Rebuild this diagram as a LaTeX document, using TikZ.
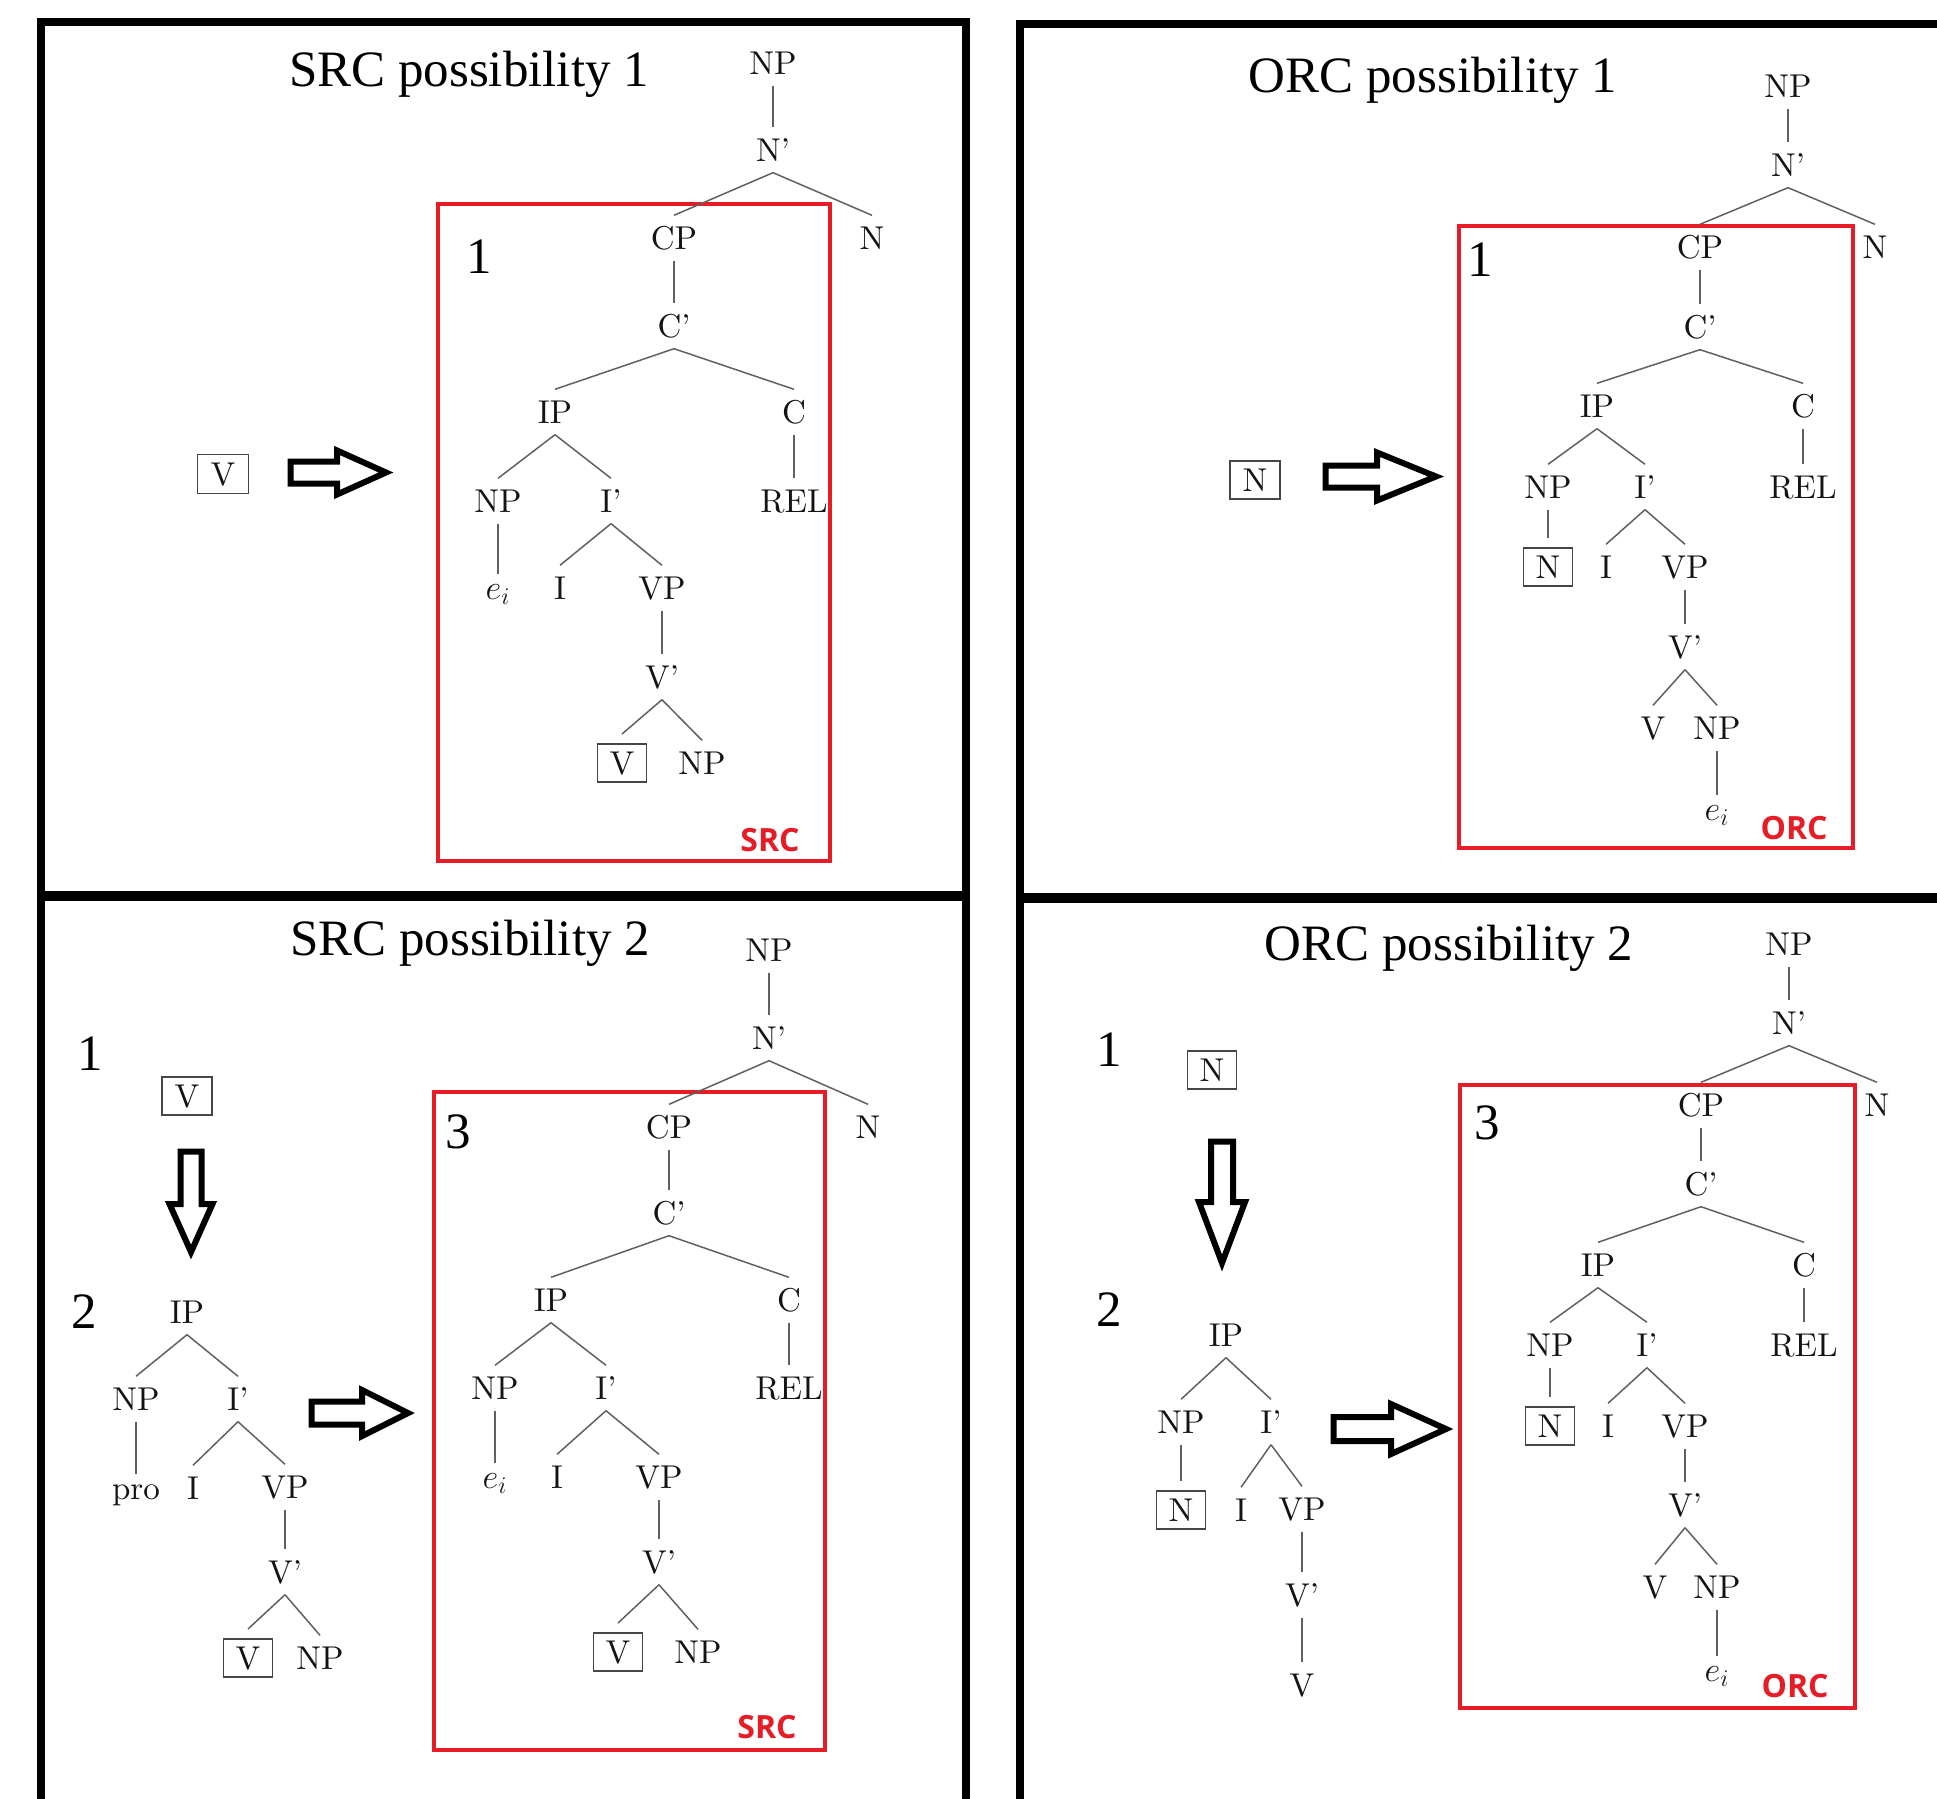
\documentclass[tikz,border=0pt]{standalone}
\usepackage{fontspec}
\newfontfamily\titlefont{Liberation Serif}
\newfontfamily\labfont{Open Sans}
\newfontfamily\treefont{lmroman10-regular.otf}[Ligatures=TeX]
\definecolor{redbox}{RGB}{230,28,38}
\definecolor{treeline}{RGB}{96,96,96}
\definecolor{treetext}{RGB}{20,20,20}
\definecolor{boxgray}{RGB}{70,70,70}
\newcommand\rblockarrow[6]{\draw[blockar] (#1,{#4-#5}) -- (#2,{#4-#5}) -- (#2,{#4-#6}) -- (#3,#4) -- (#2,{#4+#6}) -- (#2,{#4+#5}) -- (#1,{#4+#5}) -- cycle;}
\newcommand\dblockarrow[6]{\draw[blockar] ({#4-#5},#1) -- ({#4-#5},#2) -- ({#4-#6},#2) -- (#4,#3) -- ({#4+#6},#2) -- ({#4+#5},#2) -- ({#4+#5},#1) -- cycle;}
\begin{document}
\begin{tikzpicture}[x=0.5pt,y=-0.5pt,
 tn/.style={font=\treefont\fontsize{16.5}{16.5}\selectfont, text=treetext, inner xsep=1pt, inner ysep=5.5pt, text height=11.3pt, text depth=0pt},
 etn/.style={tn, text height=7pt, anchor=base},
 boxed/.style={tn, draw=boxgray, line width=0.9pt, minimum width=24.5pt, minimum height=19pt, inner ysep=0pt, outer xsep=0pt, outer ysep=5pt},
 edge/.style={draw=treeline, line width=0.75pt},
 title/.style={font=\titlefont\fontsize{25.5}{25.5}\selectfont, anchor=base, inner sep=0pt},
 tag/.style={font=\labfont\bfseries\fontsize{16}{16}\selectfont, text=redbox, anchor=base, inner sep=0pt},
 frame/.style={line width=4pt},
 midframe/.style={line width=5pt},
 redframe/.style={draw=redbox, line width=2pt},
 blockar/.style={line width=3pt, line join=miter}
]
\useasboundingbox (0,0) rectangle (1937,1798);
\clip (0,0) rectangle (1937,1798);

% frames
\draw[frame] (41,1830) -- (41,22) -- (965.5,22) -- (965.5,1830);
\draw[midframe] (41,896) -- (965.5,896);
\draw[frame] (1019.5,1830) -- (1019.5,24) -- (1960,24);
\draw[midframe] (1019.5,898) -- (1960,898);

% titles
\node[title] (t1) at (469,87) {SRC possibility 1};
\node[title] (t2) at (1433,93) {ORC possibility 1};
\node[title] (t3) at (470,955) {SRC possibility 2};
\node[title] (t4) at (1449,960) {ORC possibility 2};

% red boxes
\draw[redframe] (438,204) rectangle (830,861);
\draw[redframe] (1459,226) rectangle (1853,848);
\draw[redframe] (434,1092) rectangle (825,1750);
\draw[redframe] (1460,1085) rectangle (1855,1708);

\node[tag] (s1) at (770,851) {SRC};
\node[tag] (s2) at (1794,839) {ORC};
\node[tag] (s3) at (767,1738) {SRC};
\node[tag] (s4) at (1795,1697) {ORC};

% step numbers
\node[title] (n1a) at (479,273) {1};
\node[title] (n1b) at (1480,276) {1};
\node[title] (n1c) at (90,1070) {1};
\node[title] (n2c) at (84,1328) {2};
\node[title] (n3c) at (458,1148) {3};
\node[title] (n1d) at (1109,1066) {1};
\node[title] (n2d) at (1109,1326) {2};
\node[title] (n3d) at (1487,1139) {3};

% ---------- panel a : SRC possibility 1
\node[boxed, minimum width=25.5pt, minimum height=19.5pt] (aV0) at (223,474) {V};
\node[tn] (aNP) at (773,63) {NP};
\node[tn] (aNb) at (773,150) {N'};
\node[tn] (aCP) at (674,238) {CP};
\node[tn] (aN) at (872,238) {N};
\node[tn] (aCb) at (674,326) {C'};
\node[tn] (aIP) at (555,412) {IP};
\node[tn] (aC) at (794,412) {C};
\node[tn] (aNPb) at (498,501) {NP};
\node[tn] (aIb) at (611,501) {I'};
\node[tn] (aREL) at (794,501) {REL};
\node[etn] (aX) at (498,599) {$e_i$};
\node[tn] (aI) at (560,588) {I};
\node[tn] (aVP) at (662,588) {VP};
\node[tn] (aVb) at (662,677) {V'};
\node[boxed] (aV) at (622,763) {V};
\node[tn] (aNPc) at (702,763) {NP};

% ---------- panel b : ORC possibility 1
\node[boxed, minimum width=25pt] (bN0) at (1255,480) {N};
\node[tn] (bNP) at (1788,86) {NP};
\node[tn] (bNb) at (1788,165) {N'};
\node[tn] (bCP) at (1700,247) {CP};
\node[tn] (bN) at (1875,247) {N};
\node[tn] (bCb) at (1700,327) {C'};
\node[tn] (bIP) at (1597,406) {IP};
\node[tn] (bC) at (1803,406) {C};
\node[tn] (bNPb) at (1548,487) {NP};
\node[tn] (bIb) at (1645,487) {I'};
\node[tn] (bREL) at (1803,487) {REL};
\node[boxed] (bX) at (1548,567) {N};
\node[tn] (bI) at (1606,567) {I};
\node[tn] (bVP) at (1685,567) {VP};
\node[tn] (bVb) at (1685,647) {V'};
\node[tn] (bV) at (1653,728) {V};
\node[tn] (bNPc) at (1717,728) {NP};
\node[etn] (be) at (1717,820) {$e_i$};

% ---------- panel c : SRC possibility 2
\node[boxed, minimum width=25pt] (cV0) at (187,1096) {V};
\node[tn] (sIP) at (187,1312) {IP};
\node[tn] (sNP) at (136,1399) {NP};
\node[tn] (sIb) at (238,1399) {I'};
\node[etn] (spro) at (136,1499) {pro};
\node[tn] (sI) at (193,1488) {I};
\node[tn] (sVP) at (285,1487) {VP};
\node[tn] (sVb) at (285,1572) {V'};
\node[boxed] (sV) at (248,1658) {V};
\node[tn] (sNPc) at (320,1658) {NP};

\node[tn] (cNP) at (769,950) {NP};
\node[tn] (cNb) at (769,1038) {N'};
\node[tn] (cCP) at (669,1127) {CP};
\node[tn] (cN) at (868,1127) {N};
\node[tn] (cCb) at (669,1213) {C'};
\node[tn] (cIP) at (551,1300) {IP};
\node[tn] (cC) at (789,1300) {C};
\node[tn] (cNPb) at (495,1388) {NP};
\node[tn] (cIb) at (606,1388) {I'};
\node[tn] (cREL) at (789,1388) {REL};
\node[etn] (cX) at (495,1488) {$e_i$};
\node[tn] (cI) at (557,1477) {I};
\node[tn] (cVP) at (659,1477) {VP};
\node[tn] (cVb) at (659,1562) {V'};
\node[boxed] (cV) at (618,1652) {V};
\node[tn] (cNPc) at (698,1652) {NP};

% ---------- panel d : ORC possibility 2
\node[boxed] (dN0) at (1212,1070) {N};
\node[tn] (tIP) at (1226,1335) {IP};
\node[tn] (tNP) at (1181,1422) {NP};
\node[tn] (tIb) at (1271,1422) {I'};
\node[boxed] (tN) at (1181,1510) {N};
\node[tn] (tI) at (1241,1510) {I};
\node[tn] (tVP) at (1302,1509) {VP};
\node[tn] (tVb) at (1302,1595) {V'};
\node[tn] (tV) at (1302,1685) {V};

\node[tn] (dNP) at (1789,944) {NP};
\node[tn] (dNb) at (1789,1023) {N'};
\node[tn] (dCP) at (1701,1105) {CP};
\node[tn] (dN) at (1877,1105) {N};
\node[tn] (dCb) at (1701,1184) {C'};
\node[tn] (dIP) at (1598,1265) {IP};
\node[tn] (dC) at (1804,1265) {C};
\node[tn] (dNPb) at (1550,1345) {NP};
\node[tn] (dIb) at (1647,1345) {I'};
\node[tn] (dREL) at (1804,1345) {REL};
\node[boxed] (dX) at (1550,1426) {N};
\node[tn] (dI) at (1608,1426) {I};
\node[tn] (dVP) at (1685,1426) {VP};
\node[tn] (dVb) at (1685,1505) {V'};
\node[tn] (dV) at (1655,1587) {V};
\node[tn] (dNPc) at (1717,1587) {NP};
\node[etn] (de) at (1717,1681) {$e_i$};

% tree edges
\foreach \p in {a,b,c,d}{
  \foreach \u/\v in {NP/Nb, Nb/CP, Nb/N, CP/Cb, Cb/IP, Cb/C, C/REL, IP/NPb, IP/Ib, NPb/X, Ib/I, Ib/VP, VP/Vb, Vb/V, Vb/NPc}
    \draw[edge] (\p\u.south) -- (\p\v.north);
}
\draw[edge] (bNPc.south) -- (be.north);
\draw[edge] (dNPc.south) -- (de.north);
\foreach \u/\v in {IP/NP, IP/Ib, NP/pro, Ib/I, Ib/VP, VP/Vb, Vb/V, Vb/NPc}
  \draw[edge] (s\u.south) -- (s\v.north);
\foreach \u/\v in {IP/NP, IP/Ib, NP/N, Ib/I, Ib/VP, VP/Vb, Vb/V}
  \draw[edge] (t\u.south) -- (t\v.north);

% block arrows
\rblockarrow{290.5}{337}{386}{472.5}{11}{22}
\rblockarrow{1325.5}{1377}{1436}{476.5}{11}{24}
\rblockarrow{311.5}{362}{408}{1413}{11.5}{23}
\rblockarrow{1333.5}{1391}{1446}{1429}{12}{25}
\dblockarrow{1151.5}{1204}{1252}{191}{10.5}{21.5}
\dblockarrow{1141.5}{1202}{1263}{1222}{11}{23}
\end{tikzpicture}
\end{document}
